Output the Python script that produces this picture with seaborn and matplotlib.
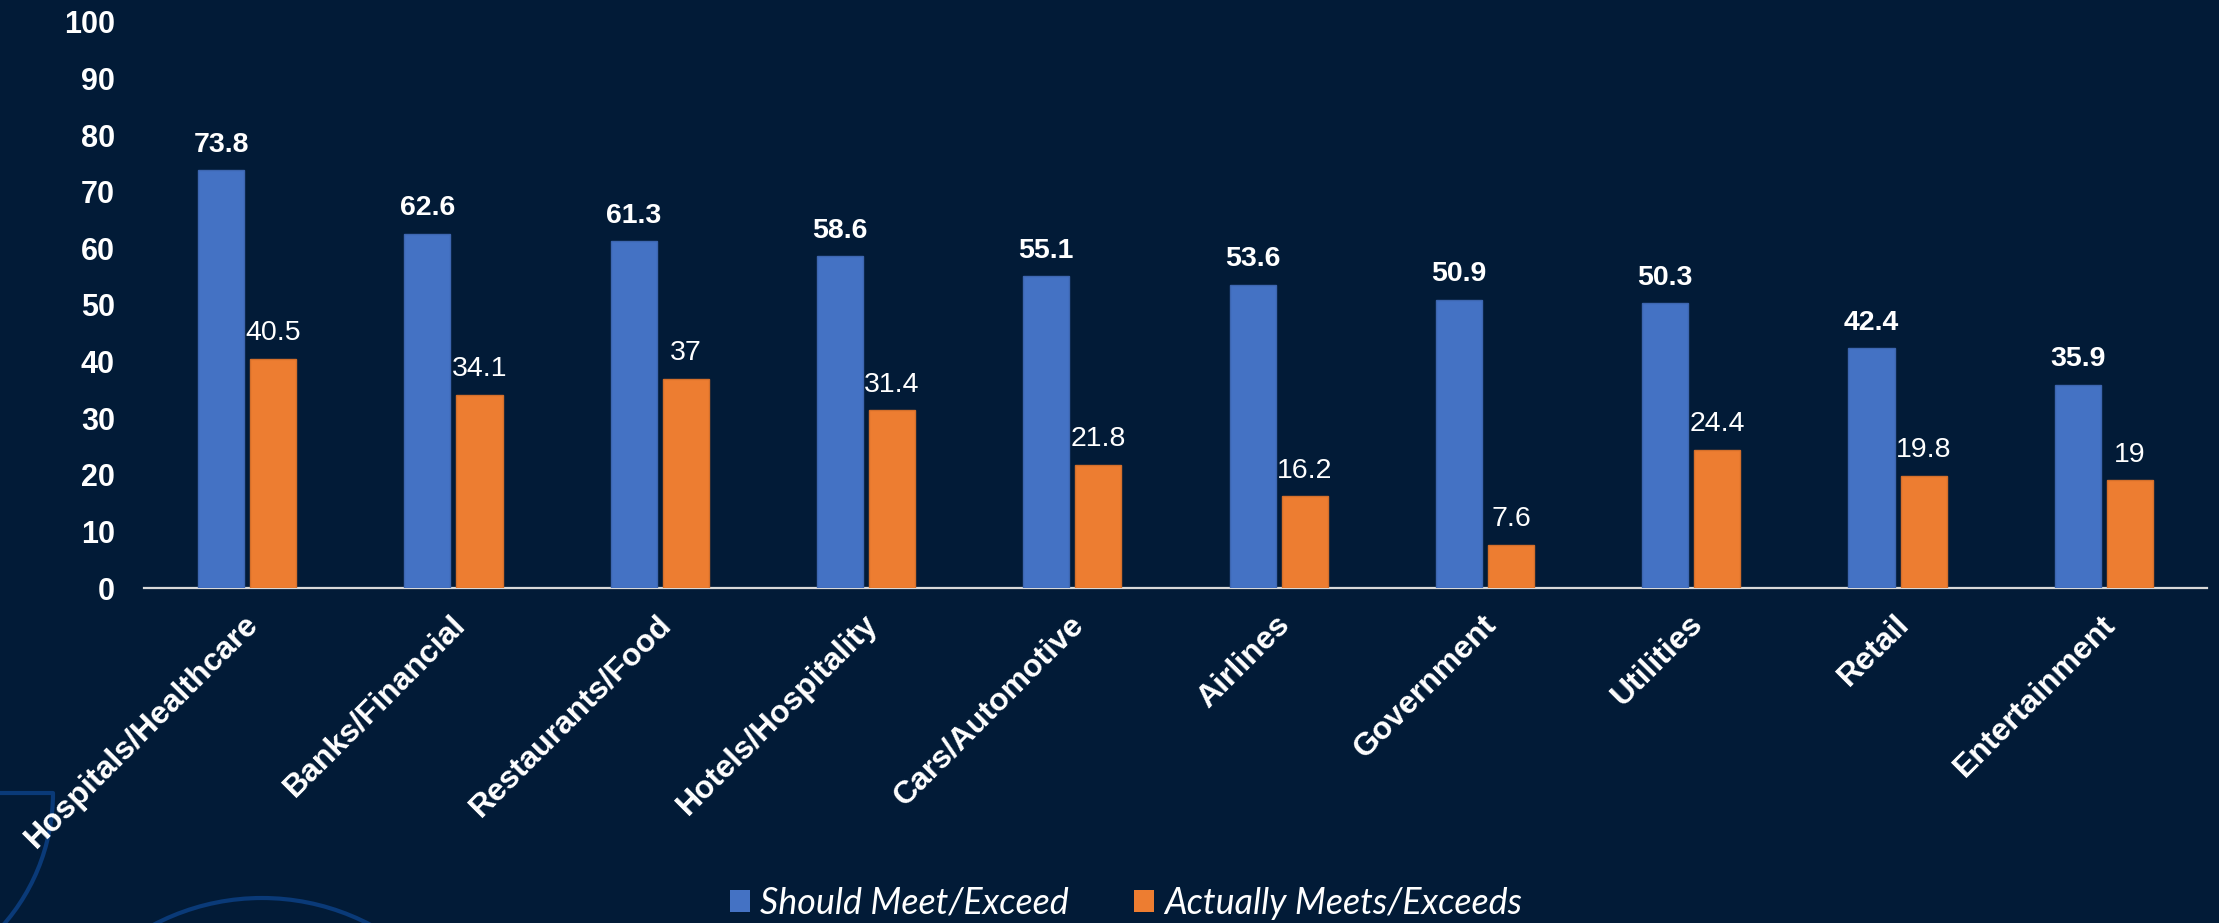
import matplotlib
matplotlib.use("Agg")
import matplotlib.pyplot as plt
from matplotlib import font_manager
from matplotlib.patches import Patch, Arc
from matplotlib.transforms import ScaledTranslation
import seaborn as sns
import pandas as pd

categories = ["Hospitals/Healthcare", "Banks/Financial", "Restaurants/Food",
              "Hotels/Hospitality", "Cars/Automotive", "Airlines", "Government",
              "Utilities", "Retail", "Entertainment"]
series_names = ["Should Meet/Exceed", "Actually Meets/Exceeds"]
should_vals = [73.8, 62.6, 61.3, 58.6, 55.1, 53.6, 50.9, 50.3, 42.4, 35.9]
actual_vals = [40.5, 34.1, 37, 31.4, 21.8, 16.2, 7.6, 24.4, 19.8, 19]
yticks = [0, 10, 20, 30, 40, 50, 60, 70, 80, 90, 100]

BG = "#021b37"
BLUE = "#4472C4"
ORANGE = "#ED7D31"

df = pd.DataFrame({
    "category": categories * 2,
    "series": [series_names[0]] * len(categories) + [series_names[1]] * len(categories),
    "value": should_vals + actual_vals,
})

sns.set_theme(style="white")
plt.rcParams["font.family"] = ["Liberation Sans", "DejaVu Sans"]

W, H = 2219, 923
fig = plt.figure(figsize=(W / 100, H / 100), dpi=100, facecolor=BG)

# decorative background arcs
deco = fig.add_axes([0, 0, 1, 1], zorder=-1)
deco.set_xlim(0, W)
deco.set_ylim(H, 0)
deco.axis("off")
deco.set_facecolor("none")
arc_col = "#0a3a78"
deco.add_patch(Arc((-147, 793), 400, 400, theta1=0, theta2=180, color=arc_col, lw=3))
deco.plot([0, 53], [793, 793], color=arc_col, lw=3)
deco.add_patch(Arc((262, 1131), 466, 466, theta1=180, theta2=360, color=arc_col, lw=3))

ax = fig.add_axes([144 / W, (H - 588) / H, (2207 - 144) / W, (588 - 22) / H])
ax.set_facecolor("none")

sns.barplot(data=df, x="category", y="value", hue="series",
            palette=[BLUE, ORANGE], saturation=1, width=0.505, gap=0.115,
            linewidth=0, legend=False, ax=ax, zorder=3)
for c, col in zip(ax.containers, ["#3d66b0", "#d46f2b"]):
    for p in c:
        p.set_edgecolor(col)
        p.set_linewidth(1)

ax.set_ylim(0, 100)
ax.set_xlim(-0.5, len(categories) - 0.5)
ax.set_yticks(yticks)
ax.set_yticklabels([str(t) for t in yticks], fontsize=22, fontweight="bold", color="white")
ax.set_xlabel("")
ax.set_ylabel("")
ax.tick_params(axis="y", length=0, pad=21)
ax.tick_params(axis="x", length=0, pad=23)
ax.set_xticks(range(len(categories)))
ax.set_xticklabels(categories, fontsize=23, fontweight="bold", color="white",
                   rotation=45, ha="right", va="center", rotation_mode="anchor")
shift = ScaledTranslation(7 / 100, 0, fig.dpi_scale_trans)
for lab in ax.get_xticklabels():
    lab.set_transform(lab.get_transform() + shift)

for s in ["top", "right", "left"]:
    ax.spines[s].set_visible(False)
ax.spines["bottom"].set_color("#d9d9d9")
ax.spines["bottom"].set_linewidth(1.6)
ax.grid(False)

ax.bar_label(ax.containers[0], fmt="%g", padding=9, color="white",
             fontsize=20.5, fontweight="bold")
ax.bar_label(ax.containers[1], fmt="%g", padding=9, color="white",
             fontsize=20.5)

names = {f.name for f in font_manager.fontManager.ttflist}
leg_family = ["Lato"] if "Lato" in names else ["Open Sans"]
handles = [Patch(facecolor=BLUE, edgecolor="none"), Patch(facecolor=ORANGE, edgecolor="none")]
leg = fig.legend(handles, series_names, loc="center left",
                 bbox_to_anchor=(730 / W, 1 - 903 / H), ncol=2, frameon=False,
                 borderpad=0, borderaxespad=0, handlelength=0.57, handleheight=0.57,
                 handletextpad=0.28, columnspacing=1.8,
                 prop=dict(family=leg_family, style="italic", size=25.8))
for t in leg.get_texts():
    t.set_color("white")

fig.savefig("out.png", dpi=100, facecolor=BG)
